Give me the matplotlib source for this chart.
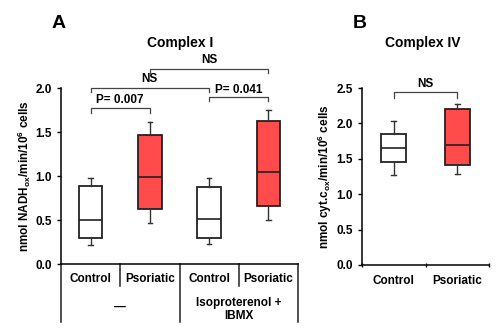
import matplotlib.pyplot as plt

plt.rcParams['font.family'] = ['Liberation Sans', 'DejaVu Sans']
plt.rcParams['font.weight'] = 'bold'
plt.rcParams['mathtext.fontset'] = 'custom'
plt.rcParams['mathtext.rm'] = 'Liberation Sans:bold'
plt.rcParams['mathtext.bf'] = 'Liberation Sans:bold'

# Panel A: Complex I (low whisker, q1, median, q3, high whisker)
a_labels = ['Control', 'Psoriatic', 'Control', 'Psoriatic']
a_low = [0.22, 0.47, 0.23, 0.50]
a_q1 = [0.30, 0.62, 0.30, 0.66]
a_med = [0.50, 0.99, 0.51, 1.04]
a_q3 = [0.89, 1.47, 0.88, 1.63]
a_high = [0.98, 1.61, 0.98, 1.75]
a_groups = ['\u2014', 'Isoproterenol +\nIBMX']

# Panel B: Complex IV
b_labels = ['Control', 'Psoriatic']
b_low = [1.27, 1.29]
b_q1 = [1.45, 1.42]
b_med = [1.65, 1.70]
b_q3 = [1.85, 2.20]
b_high = [2.03, 2.28]

colors_a = ['white', '#FF4B4B', 'white', '#FF4B4B']
colors_b = ['white', '#FF4B4B']
FS = 8.5


def draw_boxes(ax, low, q1, med, q3, high, colors):
    stats = []
    for i in range(len(med)):
        stats.append({'whislo': low[i], 'q1': q1[i], 'med': med[i],
                      'q3': q3[i], 'whishi': high[i], 'fliers': []})
    ax.bxp(stats, positions=range(len(med)), widths=0.4, patch_artist=True,
           showfliers=False,
           boxprops=dict(linewidth=1.3, edgecolor='#222222'),
           medianprops=dict(color='#222222', linewidth=1.2),
           whiskerprops=dict(color='#333333', linewidth=1.0),
           capprops=dict(color='#333333', linewidth=1.0),
           capwidths=0.08)
    for p, c in zip(ax.patches, colors):
        p.set_facecolor(c)


def bracket(ax, x1, x2, y, h, text, ty):
    ax.plot([x1, x1, x2, x2], [y - h, y, y, y - h], color='#444444',
            linewidth=0.9, clip_on=False)
    ax.text((x1 + x2) / 2, ty, text, ha='center', va='center',
            fontsize=FS, fontweight='bold')


fig = plt.figure(figsize=(5, 3.35), dpi=100)

# ---- panel A ----
axA = fig.add_axes([0.122, 0.2119, 0.474, 0.5254])
draw_boxes(axA, a_low, a_q1, a_med, a_q3, a_high, colors_a)
axA.set_xlim(-0.5, 3.5)
axA.set_ylim(0, 2.0)
axA.set_yticks([0, 0.5, 1.0, 1.5, 2.0])
axA.set_yticklabels(['0.0', '0.5', '1.0', '1.5', '2.0'], fontsize=FS, fontweight='bold')
axA.tick_params(axis='y', length=3, width=1)
axA.set_xticks([])
for s in ['top', 'right']:
    axA.spines[s].set_visible(False)
axA.spines['left'].set_linewidth(1.1)
axA.spines['bottom'].set_linewidth(1.1)
axA.set_ylabel('nmol NADH$_{\\mathbf{ox}}$/min/10$^{\\mathbf{6}}$ cells',
               fontsize=FS, fontweight='bold', labelpad=1.5)

# category table lines under the axis
for x, ybot in [(-0.5, -0.33), (0.5, -0.125), (1.5, -0.33), (2.5, -0.125), (3.5, -0.33)]:
    axA.plot([x, x], [0, ybot * 2.0], color='#222222', linewidth=1.1, clip_on=False)
for i, lab in enumerate(a_labels):
    axA.text(i, -0.17, lab, ha='center', va='center', fontsize=FS, fontweight='bold')
axA.text(0.5, -0.49, a_groups[0], ha='center', va='center', fontsize=FS, fontweight='bold')
axA.text(2.5, -0.52, a_groups[1], ha='center', va='center', fontsize=FS,
         fontweight='bold', linespacing=1.1)

bracket(axA, 0, 1, 1.77, 0.05, 'P= 0.007', 1.86)
bracket(axA, 0, 2, 2.0, 0.04, 'NS', 2.10)
bracket(axA, 2, 3, 1.90, 0.05, 'P= 0.041', 1.98)
bracket(axA, 1, 3, 2.22, 0.05, 'NS', 2.32)

fig.text(0.36, 0.873, 'Complex I', ha='center', va='center', fontsize=10, fontweight='bold')
fig.text(0.118, 0.93, 'A', ha='center', va='center', fontsize=14, fontweight='bold')

# ---- panel B ----
axB = fig.add_axes([0.724, 0.209, 0.254, 0.528])
draw_boxes(axB, b_low, b_q1, b_med, b_q3, b_high, colors_b)
axB.set_xlim(-0.5, 1.5)
axB.set_ylim(0, 2.5)
axB.set_yticks([0, 0.5, 1.0, 1.5, 2.0, 2.5])
axB.set_yticklabels(['0.0', '0.5', '1.0', '1.5', '2.0', '2.5'], fontsize=FS, fontweight='bold')
axB.tick_params(axis='y', length=3, width=1)
axB.set_xticks([-0.5, 0.5, 1.5])
axB.set_xticklabels(['', '', ''])
axB.tick_params(axis='x', length=3, width=1, direction='inout')
for i, lab in enumerate(b_labels):
    axB.text(i, -0.22, lab, ha='center', va='center', fontsize=FS, fontweight='bold')
for s in ['top', 'right']:
    axB.spines[s].set_visible(False)
axB.spines['left'].set_linewidth(1.1)
axB.spines['bottom'].set_linewidth(1.1)
axB.set_ylabel('nmol cyt.c$_{\\mathbf{ox}}$/min/10$^{\\mathbf{6}}$ cells',
               fontsize=FS, fontweight='bold', labelpad=1.5)

bracket(axB, 0, 1, 2.44, 0.08, 'NS', 2.56)

fig.text(0.846, 0.873, 'Complex IV', ha='center', va='center', fontsize=10, fontweight='bold')
fig.text(0.72, 0.93, 'B', ha='center', va='center', fontsize=14, fontweight='bold')

fig.savefig('out.png', dpi=100)
